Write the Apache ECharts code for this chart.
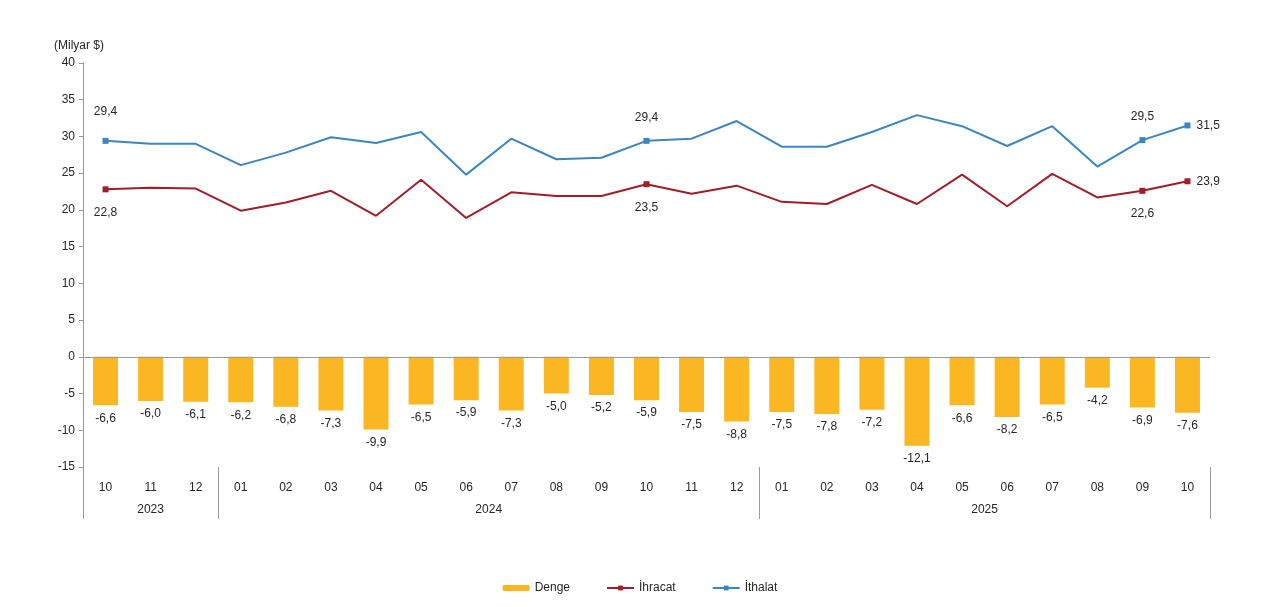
<!DOCTYPE html>
<html lang="tr">
<head>
<meta charset="UTF-8">
<title>Dış ticaret</title>
<script src="https://cdn.jsdelivr.net/npm/echarts@6/dist/echarts.min.js"></script>
<style>
  html, body { margin: 0; padding: 0; background: #fff; }
  #chart { width: 1280px; height: 607px; }
</style>
</head>
<body>
<div id="chart"></div>
<script>
// aylar ve yillar
var months = ['10','11','12','01','02','03','04','05','06','07','08','09','10','11','12',
              '01','02','03','04','05','06','07','08','09','10'];
var yearLabels = ['2023', '2024', '2025'];
var yearCounts = [3, 12, 10];

// milyar $
var denge   = [-6.6,-6.0,-6.1,-6.2,-6.8,-7.3,-9.9,-6.5,-5.9,-7.3,-5.0,-5.2,-5.9,-7.5,-8.8,
               -7.5,-7.8,-7.2,-12.1,-6.6,-8.2,-6.5,-4.2,-6.9,-7.6];
var ihracat = [22.8,23.0,22.9,19.9,21.0,22.6,19.2,24.1,18.9,22.4,21.9,21.9,23.5,22.2,23.3,
               21.1,20.8,23.4,20.8,24.8,20.5,24.9,21.7,22.6,23.9];
var ithalat = [29.4,29.0,29.0,26.1,27.8,29.9,29.1,30.6,24.8,29.7,26.9,27.1,29.4,29.7,32.1,
               28.6,28.6,30.6,32.9,31.4,28.7,31.4,25.9,29.5,31.5];

// etiketli noktalar
var labelIdx = [0, 12, 23, 24];

var FONT = 'Liberation Sans, Arial, sans-serif';
var TXT = '#262626';
var GREY = '#9a9a9a';

function fmt(v) { return v.toFixed(1).replace('.', ','); }

// yil gruplarinin baslangic indexleri
var groupStart = [];
(function () {
  var s = 0;
  for (var i = 0; i < yearCounts.length; i++) { groupStart.push(s); s += yearCounts[i]; }
})();

function lineData(values, sidePos) {
  return values.map(function (v, i) {
    var k = labelIdx.indexOf(i);
    if (k < 0) return { value: v, symbol: 'none' };
    var last = i === values.length - 1;
    return {
      value: v,
      label: {
        show: true,
        position: last ? 'right' : sidePos,
        distance: last ? 6 : (i === 0 && sidePos === 'top' ? 20 : 14)
      }
    };
  });
}

var chart = echarts.init(document.getElementById('chart'));

chart.setOption({
  animation: false,
  textStyle: { fontFamily: FONT },
  grid: { left: 83, right: 70, top: 63, bottom: 140 },
  legend: {
    bottom: 8,
    left: 'center',
    itemGap: 36,
    itemWidth: 27,
    itemHeight: 6,
    textStyle: { fontSize: 12, color: TXT, fontFamily: FONT },
    data: ['Denge', 'İhracat', 'İthalat']
  },
  xAxis: {
    type: 'category',
    data: months,
    axisLine: { show: false, onZero: false },
    axisTick: {
      show: true,
      length: 52,
      lineStyle: { color: GREY },
      interval: function (i) { return groupStart.indexOf(i) >= 0; }
    },
    axisLabel: { interval: 0, margin: 15, color: TXT, fontSize: 12, fontFamily: FONT },
    splitLine: { show: false }
  },
  yAxis: {
    type: 'value',
    min: -15,
    max: 40,
    interval: 5,
    name: '(Milyar $)',
    nameLocation: 'end',
    nameGap: 11,
    nameTextStyle: { color: TXT, fontSize: 12, fontFamily: FONT, padding: [0, 0, 0, -8] },
    axisLine: { show: true, lineStyle: { color: GREY } },
    axisTick: { show: true, length: 4, lineStyle: { color: GREY } },
    axisLabel: { color: TXT, fontSize: 12, margin: 8, fontFamily: FONT },
    splitLine: { show: false }
  },
  series: [
    {
      name: 'Denge',
      type: 'bar',
      data: denge,
      barWidth: 25,
      itemStyle: { color: '#FBB722' },
      label: {
        show: true,
        position: 'bottom',
        distance: 7,
        color: TXT,
        fontSize: 12,
        formatter: function (p) { return fmt(p.value); }
      },
      markLine: {
        silent: true,
        symbol: 'none',
        label: { show: false },
        lineStyle: { color: GREY, type: 'solid', width: 1 },
        data: [{ yAxis: 0 }]
      },
      z: 2
    },
    {
      name: 'İhracat',
      type: 'line',
      data: lineData(ihracat, 'bottom'),
      symbol: 'rect',
      symbolSize: 6,
      showAllSymbol: true,
      color: '#A31D29',
      lineStyle: { width: 2, color: '#A31D29' },
      itemStyle: { color: '#A31D29' },
      label: {
        color: TXT,
        fontSize: 12,
        formatter: function (p) { return fmt(p.value); }
      },
      z: 3
    },
    {
      name: 'İthalat',
      type: 'line',
      data: lineData(ithalat, 'top'),
      symbol: 'rect',
      symbolSize: 6,
      showAllSymbol: true,
      color: '#3B86C1',
      lineStyle: { width: 2, color: '#3B86C1' },
      itemStyle: { color: '#3B86C1' },
      label: {
        color: TXT,
        fontSize: 12,
        formatter: function (p) { return fmt(p.value); }
      },
      z: 3
    }
  ]
});

// yil etiketleri: grup ortasina
function placeYears() {
  var y = chart.convertToPixel({ yAxisIndex: 0 }, -15) + 43;
  var els = yearLabels.map(function (yr, k) {
    var a = chart.convertToPixel({ xAxisIndex: 0 }, groupStart[k]);
    var b = chart.convertToPixel({ xAxisIndex: 0 }, groupStart[k] + yearCounts[k] - 1);
    return {
      type: 'text',
      x: (a + b) / 2,
      y: y,
      style: {
        text: yr,
        fill: TXT,
        font: '12px ' + FONT,
        textAlign: 'center',
        textVerticalAlign: 'middle'
      }
    };
  });
  chart.setOption({ graphic: els });
}
placeYears();
</script>
</body>
</html>
